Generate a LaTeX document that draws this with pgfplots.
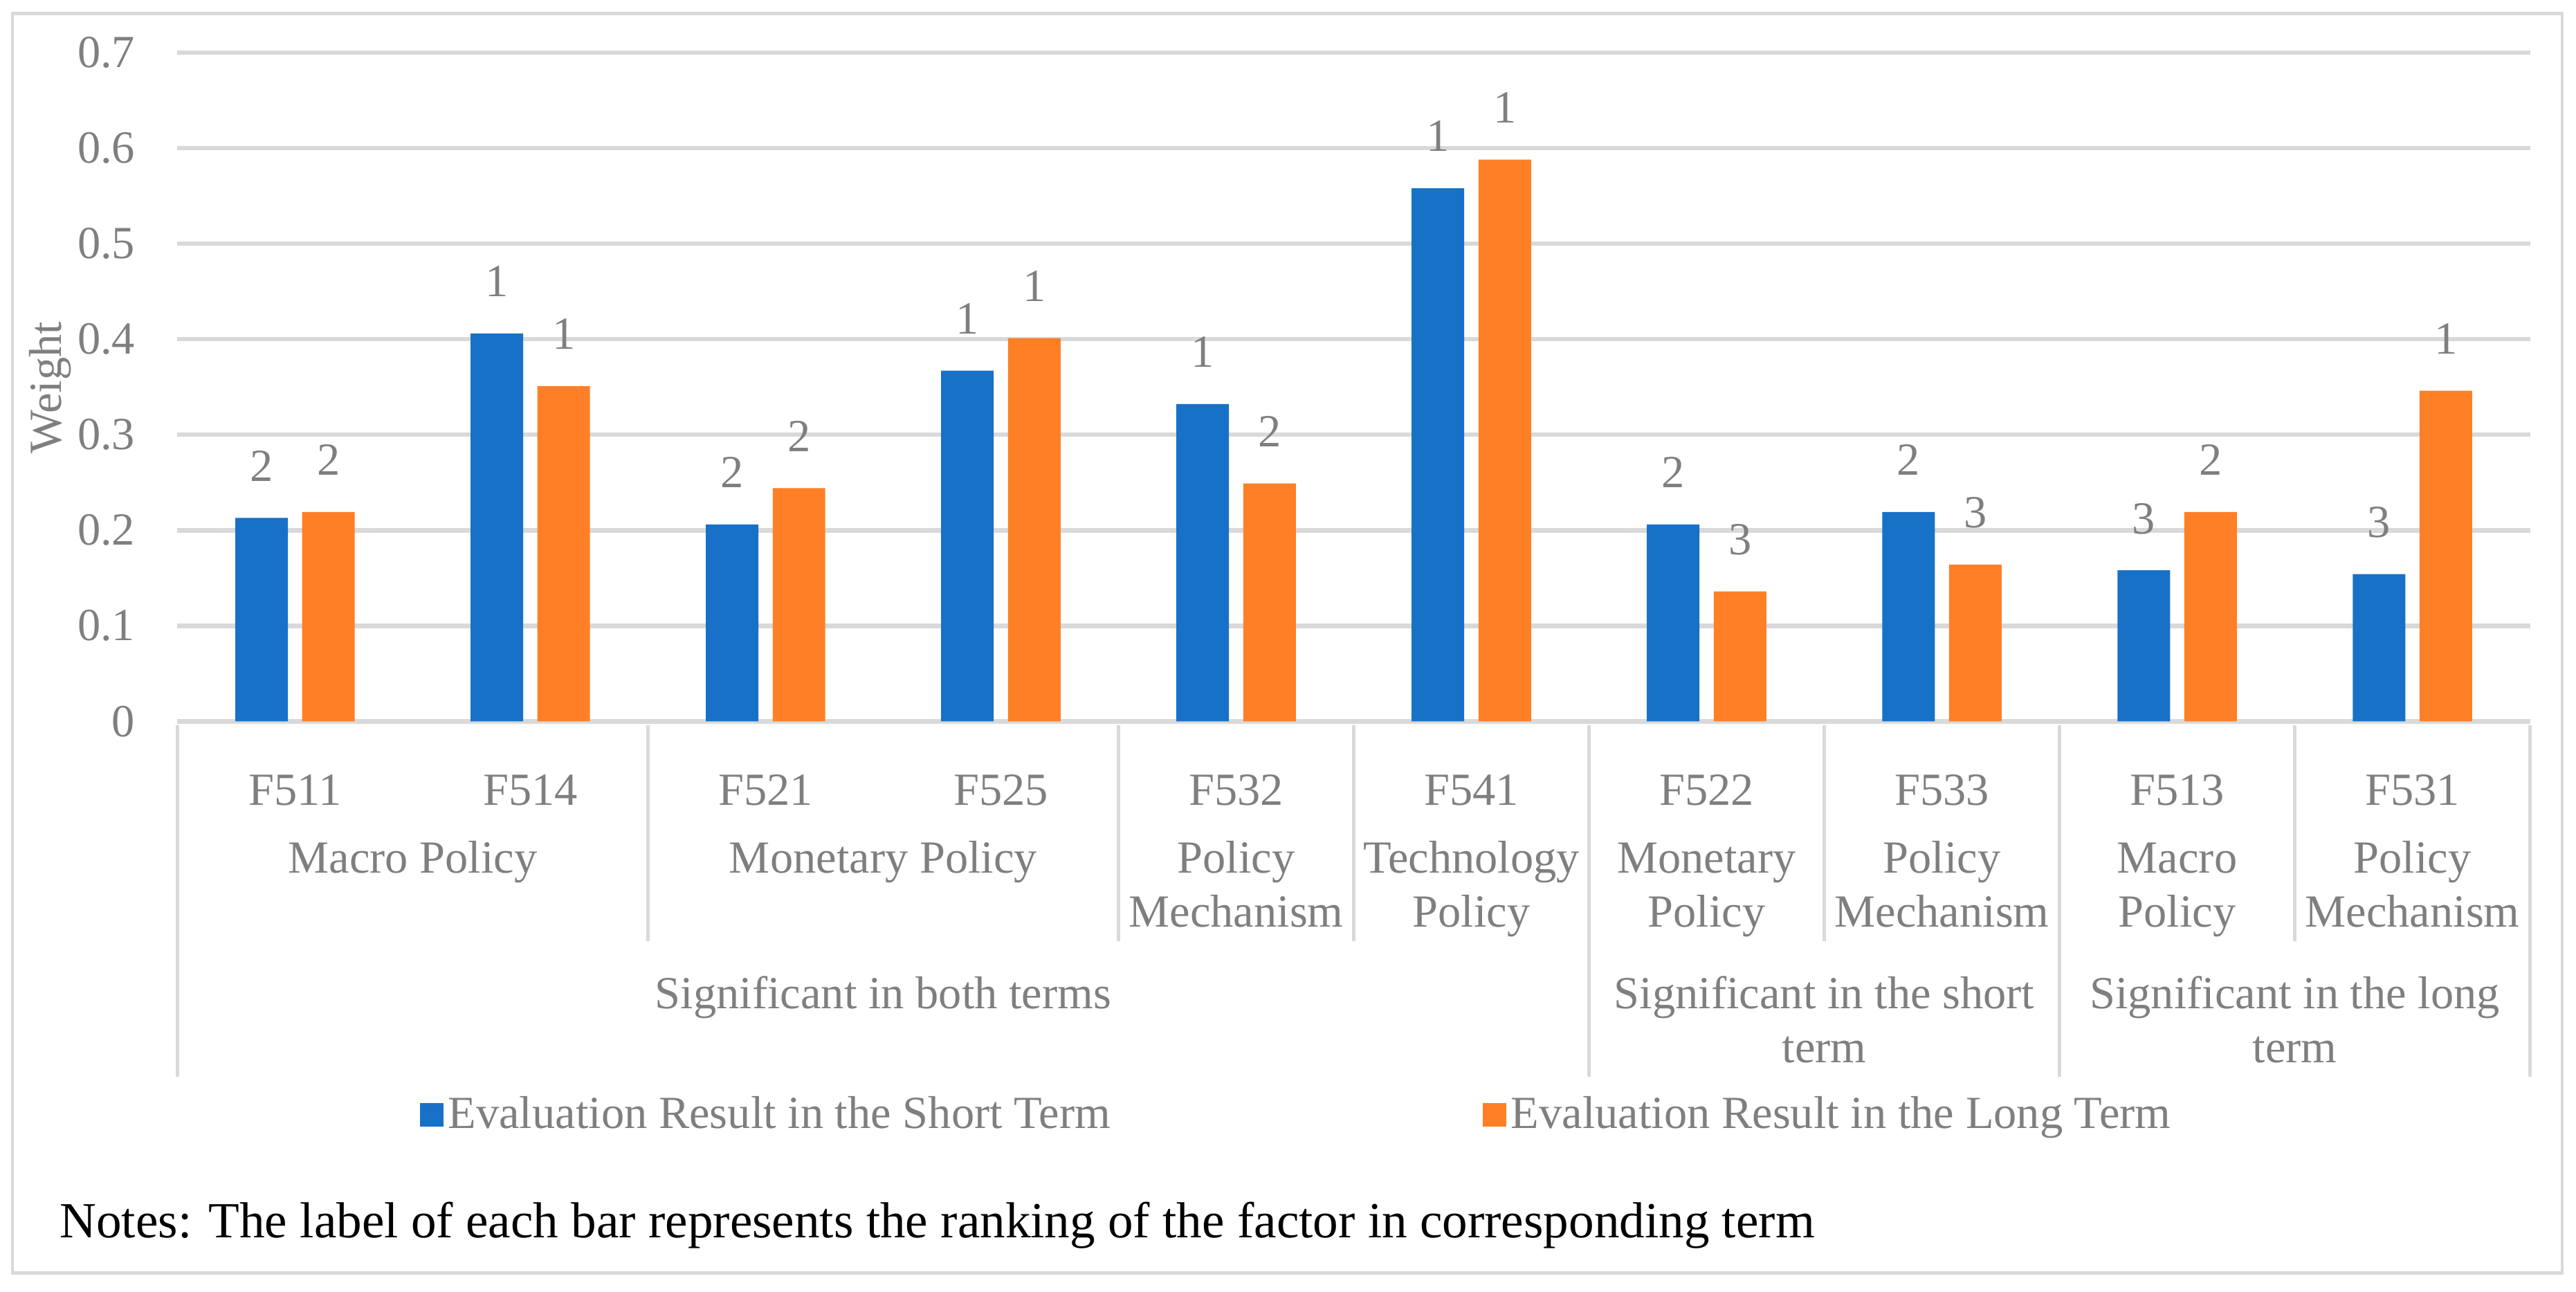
\documentclass[border=0pt]{standalone}
\usepackage{pgfplots}
\pgfplotsset{compat=1.18}
\usepackage{pgfplotstable}
\usepackage{fontspec}
\setmainfont{Liberation Serif}
\definecolor{cblue}{HTML}{1771C7}
\definecolor{corange}{HTML}{FF7F27}
\definecolor{cgrid}{HTML}{D9D9D9}
\definecolor{ctext}{HTML}{7F7F7F}
\newcommand\lab{\fontsize{14}{16}\selectfont}

\pgfplotstableread{
cat short long rs rl
0 0.213 0.219 2 2
1 0.406 0.351 1 1
2 0.206 0.244 2 2
3 0.367 0.401 1 1
4 0.332 0.249 1 2
5 0.558 0.588 1 1
6 0.206 0.136 2 3
7 0.219 0.164 2 3
8 0.158 0.219 3 2
9 0.154 0.346 3 1
}\datatable

\begin{document}
\begin{tikzpicture}[x=1pt,y=1pt]
\path[use as bounding box] (0,0) rectangle (784,393);
\draw[cgrid, line width=1pt] (3.8,5.7) rectangle (779.8,388.85);
\begin{axis}[
  at={(54pt,173.5pt)}, anchor=south west,
  scale only axis, width=716pt, height=203.5pt,
  xmin=-0.5, xmax=9.5, ymin=0, ymax=0.7,
  ytick={0,0.1,0.2,0.3,0.4,0.5,0.6,0.7},
  xtick={0,...,9},
  xticklabels={F511,F514,F521,F525,F532,F541,F522,F533,F513,F531},
  xticklabel style={anchor=base, inner sep=0pt, yshift=-21.2pt, font=\lab, text=ctext},
  yticklabel style={anchor=east, inner sep=0pt, xshift=-12.7pt, font=\lab, text=ctext},
  /pgf/number format/.cd, fixed, precision=1, assume math mode=true, /pgfplots/.cd,
  ymajorgrids, grid style={cgrid, line width=1.4pt},
  axis line style={draw=none}, tick style={draw=none},
  clip=false,
  ybar, bar width=0.2235,
  nodes near coords, point meta=explicit symbolic,
  every node near coord/.append style={anchor=base, inner sep=0pt, yshift=11.2pt, font=\lab, text=ctext},
  legend columns=2,
  legend cell align=left,
  legend image code/.code={\fill[#1,draw=none] (0pt,-3.6pt) rectangle (7.3pt,3.6pt);},
  legend style={draw=none, fill=none, inner sep=0pt, at={(axis description cs:0.1027,-0.5887)}, anchor=west,
    font=\lab, text=ctext, nodes={inner sep=1.3pt},
    /tikz/every even column/.append style={column sep=112pt}},
]
\addplot[fill=cblue, draw=none, bar shift=-0.142] table[x=cat, y=short, meta=rs] {\datatable};
\addlegendentry{Evaluation Result in the Short Term}
\addplot[fill=corange, draw=none, bar shift=0.142] table[x=cat, y=long, meta=rl] {\datatable};
\addlegendentry{Evaluation Result in the Long Term}
\end{axis}
% separators
\begin{scope}[cgrid, line width=1pt]
\foreach \k in {197.2,340.4,412,555.2,698.4} \draw (\k,172.25) -- (\k,106.7);
\foreach \k in {54,483.6,626.8,770} \draw (\k,172.25) -- (\k,65.25);
\end{scope}
\begin{scope}[every node/.style={anchor=base, inner sep=0pt, font=\lab, text=ctext}]
\node at (125.6,127.25) {Macro Policy};
\node at (268.8,127.25) {Monetary Policy};
\node at (376.2,127.25) {Policy};      \node at (376.2,111) {Mechanism};
\node at (447.8,127.25) {Technology};  \node at (447.8,111) {Policy};
\node at (519.4,127.25) {Monetary};    \node at (519.4,111) {Policy};
\node at (591,127.25) {Policy};        \node at (591,111) {Mechanism};
\node at (662.6,127.25) {Macro};       \node at (662.6,111) {Policy};
\node at (734.2,127.25) {Policy};      \node at (734.2,111) {Mechanism};
\node at (268.8,86) {Significant in both terms};
\node at (555.2,86) {Significant in the short};  \node at (555.2,69.7) {term};
\node at (698.4,86) {Significant in the long};   \node at (698.4,69.7) {term};
\end{scope}
\node[rotate=90, inner sep=0pt, text=ctext, font=\lab] at (15.3,275.1) {Weight};
\node[anchor=base west, inner sep=0pt, font=\fontsize{15.4}{18}\selectfont] at (18,16.4) {Notes: The label of each bar represents the ranking of the factor in corresponding term};
\end{tikzpicture}
\end{document}
